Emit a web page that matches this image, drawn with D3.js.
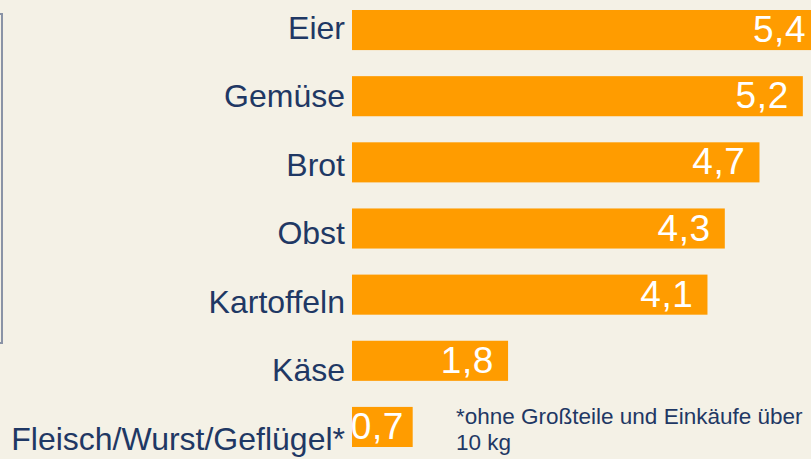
<!DOCTYPE html>
<html>
<head>
<meta charset="utf-8">
<script src="https://cdn.jsdelivr.net/npm/d3@7"></script>
<style>
    html, body { margin: 0; padding: 0; background: #f4f1e6; }
    svg { display: block; font-family: Arial, "Liberation Sans", Helvetica, sans-serif; }
</style>
</head>
<body>
<div id="viz"></div>
<script>
let categories = ['Eier', 'Gemüse', 'Brot', 'Obst', 'Kartoffeln', 'Käse', 'Fleisch/Wurst/Geflügel*'];
let values = [5.4, 5.2, 4.7, 4.3, 4.1, 1.8, 0.7];
let valueLabels = ['5,4', '5,2', '4,7', '4,3', '4,1', '1,8', '0,7'];
let footnote = ['*ohne Großteile und Einkäufe über', '10 kg'];

let width = 811, height = 459;
let orange = '#ff9c00', navy = '#1f3864';

let svg = d3.select('#viz')
    .append('svg')
    .attr('width', width)
    .attr('height', height);

svg.append('rect')
    .attr('width', width)
    .attr('height', height)
    .attr('fill', '#f4f1e6');

// frame edge on the left
svg.append('rect')
    .attr('x', -100)
    .attr('y', 14)
    .attr('width', 102)
    .attr('height', 329)
    .attr('fill', 'none')
    .attr('stroke', '#8a93a6')
    .attr('stroke-width', 2);

let xScale = d3.scaleLinear()
    .domain([0, 1])
    .range([352, 352 + 86.7]);

let yScale = d3.scaleBand()
    .domain(categories)
    .range([10, 447])
    .paddingInner(0.394)
    .paddingOuter(0);

// labels sit on a slightly wider spacing than the bars
let labelScale = d3.scalePoint()
    .domain(categories)
    .range([38.5, 450]);

svg.selectAll('rect.bar')
    .data(values)
    .enter()
    .append('rect')
    .attr('class', 'bar')
    .attr('x', xScale(0))
    .attr('y', (d, i) => yScale(categories[i]))
    .attr('width', (d) => xScale(d) - xScale(0))
    .attr('height', yScale.bandwidth())
    .attr('fill', orange);

svg.selectAll('text.cat')
    .data(categories)
    .enter()
    .append('text')
    .attr('class', 'cat')
    .attr('x', 345)
    .attr('y', (d) => labelScale(d))
    .attr('text-anchor', 'end')
    .attr('fill', navy)
    .style('font-size', '32px')
    .text((d) => d);

svg.selectAll('text.val')
    .data(values)
    .enter()
    .append('text')
    .attr('class', 'val')
    .attr('x', (d) => Math.max(xScale(d) - 14, xScale(0) + 52))
    .attr('y', (d, i) => yScale(categories[i]) + yScale.bandwidth() / 2 + 12)
    .attr('text-anchor', 'end')
    .attr('fill', '#ffffff')
    .style('font-size', '37px')
    .style('letter-spacing', '0.6px')
    .text((d, i) => valueLabels[i]);

svg.selectAll('text.note')
    .data(footnote)
    .enter()
    .append('text')
    .attr('class', 'note')
    .attr('x', 456)
    .attr('y', (d, i) => 424 + i * 26)
    .attr('fill', navy)
    .style('font-size', '22.5px')
    .text((d) => d);
</script>
</body>
</html>
